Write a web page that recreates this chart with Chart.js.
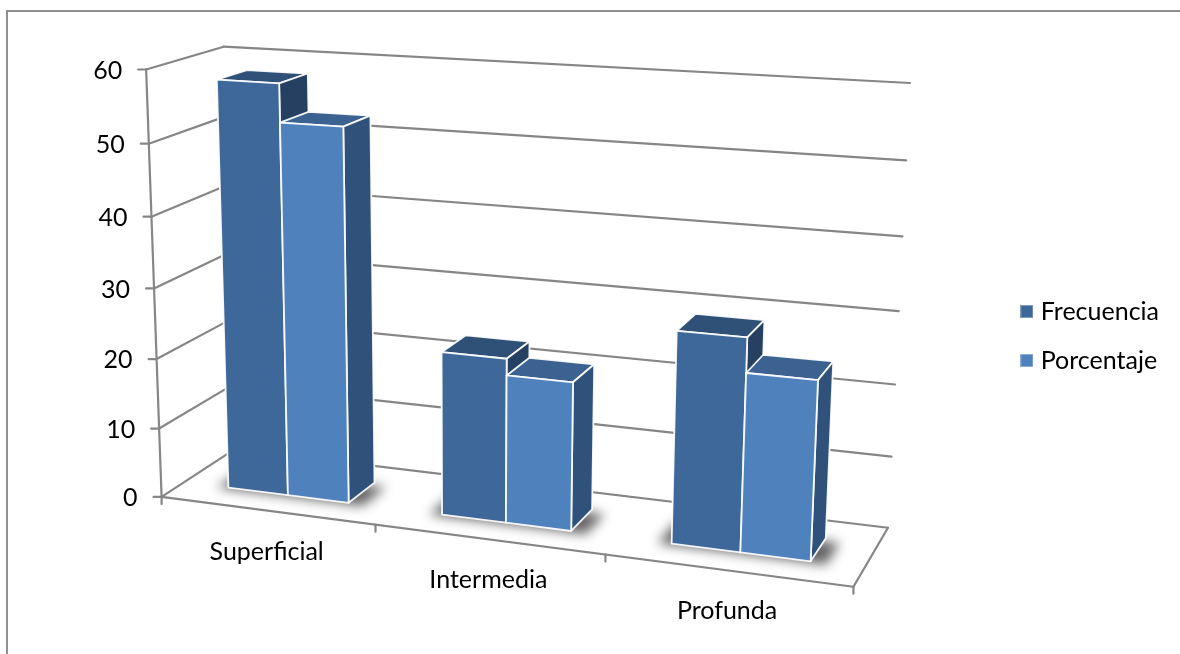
<!DOCTYPE html>
<html><head><meta charset="utf-8">
<style>html,body{margin:0;background:#fff}</style>
<script src="https://cdn.jsdelivr.net/npm/chart.js@4"></script></head>
<body><canvas id="c" width="1180" height="654"></canvas>
<script>
const categories = ['Superficial', 'Intermedia', 'Profunda'];
const frecuencia = [58, 23, 29];
const porcentaje = [52.7, 20.7, 24.3];

// Camera for the 3D box: u across, v up, d into the page, each running 0..1.
const CAMERA = [
  [602.22016, -22.47335, 88.29694, 161.60512],
  [28.19351, -430.74926, -18.70237, 496.91771],
  [-0.10501, -0.04789, 0.06462, 1]
];
const DEPTH_FRONT = 0.3, DEPTH_BACK = 0.7;
const FONT = '25px Lato';

function project(u, v, d) {
  const [a, b, c] = CAMERA;
  const w = c[0] * u + c[1] * v + c[2] * d + c[3];
  return [(a[0] * u + a[1] * v + a[2] * d + a[3]) / w, (b[0] * u + b[1] * v + b[2] * d + b[3]) / w];
}
function poly(ctx, p) {
  ctx.beginPath();
  p.forEach((q, i) => i ? ctx.lineTo(q[0], q[1]) : ctx.moveTo(q[0], q[1]));
  ctx.closePath();
}
function line(ctx, a, b) {
  ctx.beginPath(); ctx.moveTo(a[0], a[1]); ctx.lineTo(b[0], b[1]); ctx.stroke();
}
const toU = (area, px) => (px - area.left) / area.width;
const toV = (area, py) => (area.bottom - py) / area.height;

// Legend swatch with the faint pale rim of the column fill.
function swatch(color) {
  const c = document.createElement('canvas');
  c.width = c.height = 13;
  const g = c.getContext('2d');
  g.fillStyle = color; g.fillRect(0, 0, 13, 13);
  g.strokeStyle = 'rgba(255,255,255,.35)'; g.lineWidth = 1; g.strokeRect(0.5, 0.5, 12, 12);
  return c;
}

function drawFrame(chart) {
  const ctx = chart.ctx, area = chart.chartArea, ys = chart.scales.y, xs = chart.scales.x;
  ctx.save();
  ctx.strokeStyle = '#8f8f8f'; ctx.lineWidth = 2;
  ctx.beginPath(); ctx.moveTo(7, 654); ctx.lineTo(7, 11); ctx.lineTo(1180, 11); ctx.stroke();

  ctx.strokeStyle = '#868686'; ctx.lineWidth = 2.2; ctx.lineCap = 'round';
  ctx.fillStyle = '#000'; ctx.font = FONT; ctx.textBaseline = 'middle';
  ctx.textAlign = 'right';
  ys.ticks.forEach(t => {
    const v = toV(area, ys.getPixelForValue(t.value));
    const f = project(0, v, 0), b = project(0, v, 1), r = project(1, v, 1);
    line(ctx, [f[0] - 8, f[1]], f); line(ctx, f, b); line(ctx, b, r);
    ctx.fillText(String(t.value), f[0] - 24, f[1] + 1);
  });
  line(ctx, project(0, 0, 0), project(0, 1, 0));
  line(ctx, project(0, 0, 0), project(1, 0, 0));
  line(ctx, project(1, 0, 0), project(1, 0, 1));

  const step = xs.getPixelForValue(1) - xs.getPixelForValue(0);
  ctx.textAlign = 'center';
  categories.forEach((c, i) => {
    const mid = xs.getPixelForValue(i);
    const left = project(toU(area, mid - step / 2), 0, 0);
    line(ctx, left, [left[0], left[1] + 7]);
    if (i === categories.length - 1) {
      const right = project(toU(area, mid + step / 2), 0, 0);
      line(ctx, right, [right[0], right[1] + 7]);
    }
    const p = project(toU(area, mid), 0, 0);
    ctx.fillText(c, p[0], p[1] + 41);
  });

  // Soft shadow on the floor under each cluster of columns.
  const first = chart.getDatasetMeta(0).data, second = chart.getDatasetMeta(1).data;
  ctx.filter = 'blur(6px)'; ctx.fillStyle = 'rgba(40,40,40,.72)';
  first.forEach((el, i) => {
    const e2 = second[i];
    const u0 = toU(area, el.x - el.width / 2) - 0.02, u1 = toU(area, e2.x + e2.width / 2) + 0.02;
    poly(ctx, [project(u0, 0, 0.31), project(u1, 0, 0.31), project(u1, 0, 0.68), project(u0, 0, 0.68)]
      .map(p => [p[0], p[1] + 2]));
    ctx.fill();
  });
  ctx.filter = 'none';
  ctx.restore();
}

// One column as three lit faces: top, right side, front.
function drawPrism(ctx, area, el, ds) {
  const u0 = toU(area, el.x - el.width / 2), u1 = toU(area, el.x + el.width / 2);
  const v0 = toV(area, el.base), v1 = toV(area, el.y);
  const F = DEPTH_FRONT, B = DEPTH_BACK;
  const faces = [
    [[project(u0, v1, F), project(u1, v1, F), project(u1, v1, B), project(u0, v1, B)], ds.topColor],
    [[project(u1, v0, F), project(u1, v1, F), project(u1, v1, B), project(u1, v0, B)], ds.sideColor],
    [[project(u0, v0, F), project(u1, v0, F), project(u1, v1, F), project(u0, v1, F)], ds.backgroundColor]
  ];
  ctx.save();
  ctx.lineJoin = 'round'; ctx.lineWidth = 1.8; ctx.strokeStyle = 'rgba(255,255,255,.92)';
  faces.forEach(([p, c]) => { poly(ctx, p); ctx.fillStyle = c; ctx.fill(); ctx.stroke(); });
  ctx.restore();
}

const box3d = {
  id: 'box3d',
  beforeDatasetsDraw: drawFrame,
  beforeDatasetDraw: () => false,
  afterDatasetsDraw(chart) {
    chart.data.datasets.forEach((ds, i) => {
      chart.getDatasetMeta(i).data.forEach(el => drawPrism(chart.ctx, chart.chartArea, el, ds));
    });
  }
};

new Chart(document.getElementById('c'), {
  type: 'bar',
  data: {
    labels: categories,
    datasets: [
      { label: 'Frecuencia', data: frecuencia, backgroundColor: '#3E6899', topColor: '#2F5077', sideColor: '#254061' },
      { label: 'Porcentaje', data: porcentaje, backgroundColor: '#4F81BD', topColor: '#3B6291', sideColor: '#30527A' }
    ]
  },
  plugins: [box3d],
  options: {
    responsive: false, animation: false,
    categoryPercentage: 0.5714, barPercentage: 1,
    layout: { padding: { top: 18, right: 11 } },
    scales: {
      x: { display: false },
      y: { display: false, min: 0, max: 60, ticks: { stepSize: 10 } }
    },
    plugins: {
      tooltip: { enabled: false },
      legend: {
        position: 'right',
        labels: {
          font: { family: 'Lato', size: 25 }, color: '#000',
          usePointStyle: true, pointStyleWidth: 3, boxHeight: 12, padding: 24,
          generateLabels(chart) {
            const items = Chart.defaults.plugins.legend.labels.generateLabels(chart);
            items.forEach(it => { it.pointStyle = swatch(it.fillStyle); });
            return items;
          }
        }
      }
    }
  }
});
</script></body></html>
